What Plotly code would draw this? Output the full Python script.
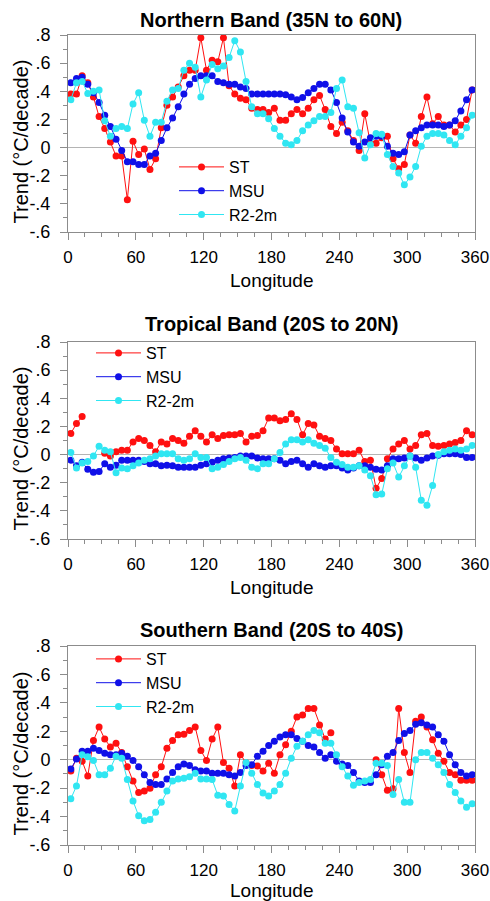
import plotly.graph_objects as go

lon = [2.5 + 5 * i for i in range(72)]

north_st = [0.38, 0.38, 0.51, 0.46, 0.36, 0.22, 0.135, 0.04, -0.06, -0.06,
            -0.37, 0.045, -0.05, -0.01, -0.155, -0.08, 0.14, 0.30, 0.36, 0.43,
            0.51, 0.55, 0.55, 0.78, 0.55, 0.62, 0.61, 0.78, 0.44, 0.38,
            0.35, 0.34, 0.28, 0.27, 0.27, 0.25, 0.28, 0.195, 0.195, 0.24,
            0.27, 0.24, 0.28, 0.34, 0.37, 0.27, 0.15, 0.10, 0.18, 0.12,
            0.05, -0.02, 0.24, 0.03, 0.03, 0.07, 0.08, -0.08, -0.15, -0.12,
            0.09, 0.03, 0.22, 0.36, 0.17, 0.22, 0.16, 0.16, 0.11, 0.16,
            0.20, 0.41]
north_msu = [0.46, 0.49, 0.50, 0.45, 0.39, 0.32, 0.23, 0.15, 0.06, -0.02,
             -0.10, -0.10, -0.12, -0.12, -0.06, -0.04, 0.05, 0.14, 0.21, 0.29,
             0.38, 0.45, 0.49, 0.51, 0.51, 0.51, 0.47, 0.46, 0.45, 0.45,
             0.43, 0.42, 0.38, 0.38, 0.38, 0.38, 0.38, 0.38, 0.375, 0.36,
             0.34, 0.355, 0.39, 0.42, 0.45, 0.45, 0.41, 0.32, 0.21, 0.11,
             0.04, 0.01, 0.04, 0.07, 0.08, 0.08, 0.01, -0.04, -0.05, -0.03,
             0.09, 0.12, 0.14, 0.16, 0.16, 0.16, 0.15, 0.16, 0.19, 0.26,
             0.34, 0.41]
north_r2 = [0.34, 0.46, 0.47, 0.385, 0.40, 0.41, 0.19, 0.08, 0.135, 0.15,
            0.135, 0.31, 0.39, 0.195, 0.08, 0.18, 0.18, 0.33, 0.41, 0.42,
            0.55, 0.60, 0.57, 0.36, 0.48, 0.59, 0.56, 0.58, 0.64, 0.76,
            0.68, 0.47, 0.29, 0.24, 0.24, 0.205, 0.135, 0.08, 0.03, 0.02,
            0.05, 0.12, 0.16, 0.19, 0.22, 0.22, 0.25, 0.42, 0.48, 0.29,
            0.28, 0.105, -0.075, 0.02, 0.10, 0.095, -0.05, -0.135, -0.18, -0.265,
            -0.21, -0.135, 0.01, 0.08, 0.10, 0.10, 0.09, 0.05, 0.02, 0.08,
            0.14, 0.23]

trop_st = [0.15, 0.22, 0.27, None, None, None, 0.01, -0.01, 0.02, 0.03,
           0.03, 0.09, 0.115, 0.10, 0.065, 0.02, 0.09, 0.075, 0.115, 0.10,
           0.08, 0.13, 0.17, 0.13, 0.09, 0.14, 0.115, 0.135, 0.14, 0.14,
           0.15, 0.09, 0.13, 0.135, 0.17, 0.26, 0.26, 0.24, 0.25, 0.29,
           0.25, 0.14, 0.22, 0.21, 0.13, 0.115, 0.10, 0.04, 0.005, 0.005,
           0.005, 0.03, -0.05, -0.04, -0.24, -0.17, -0.03, 0.04, 0.075, 0.10,
           0.04, 0.065, 0.14, 0.15, 0.065, 0.06, 0.065, 0.075, 0.085, 0.10,
           0.17, 0.14]
trop_msu = [-0.04, -0.08, -0.055, -0.105, -0.125, -0.12, -0.065, -0.09, -0.075, -0.04,
            -0.04, -0.04, -0.04, -0.05, -0.065, -0.065, -0.08, -0.075, -0.08, -0.09,
            -0.09, -0.09, -0.09, -0.075, -0.065, -0.055, -0.04, -0.03, -0.025, -0.02,
            -0.01, -0.01, -0.01, -0.025, -0.03, -0.03, -0.03, -0.04, -0.065, -0.05,
            -0.04, -0.065, -0.09, -0.065, -0.08, -0.09, -0.08, -0.08, -0.095, -0.11,
            -0.095, -0.08, -0.08, -0.09, -0.105, -0.11, -0.08, -0.03, -0.03, -0.025,
            -0.01, -0.025, -0.04, -0.025, -0.01, -0.005, 0.005, 0.005, 0.005, 0.0,
            -0.02, -0.02]
trop_r2 = [0.015, -0.095, -0.06, -0.05, -0.01, 0.06, 0.03, 0.02, -0.13, -0.095,
           -0.10, -0.08, -0.06, -0.04, -0.03, -0.01, 0.005, 0.005, 0.005, -0.03,
           -0.04, -0.03, 0.005, -0.02, -0.02, -0.10, -0.09, -0.07, -0.05, -0.03,
           -0.02, -0.04, -0.09, -0.10, -0.065, -0.065, -0.03, 0.015, 0.075, 0.105,
           0.105, 0.09, 0.105, 0.08, 0.065, 0.045, -0.02, -0.055, -0.07, -0.09,
           -0.09, -0.08, -0.11, -0.15, -0.285, -0.28, -0.10, -0.06, -0.16, -0.08,
           -0.01, -0.09, -0.325, -0.36, -0.22, 0.0, 0.02, 0.03, 0.04, 0.03,
           0.04, 0.065]

south_st = [-0.08, 0.01, -0.01, -0.115, 0.135, 0.23, 0.145, 0.09, 0.115, 0.05,
            -0.05, -0.15, -0.23, -0.22, -0.20, -0.105, -0.05, 0.08, 0.135, 0.175,
            0.18, 0.205, 0.23, 0.065, -0.005, 0.145, 0.23, -0.02, -0.06, -0.185,
            0.035, -0.02, -0.04, -0.045, -0.08, -0.025, -0.095, 0.035, 0.105, 0.20,
            0.30, 0.315, 0.36, 0.36, 0.245, 0.145, 0.19, None, None, None,
            None, None, None, None, 0.0, -0.105, -0.215, -0.205, 0.36, 0.05,
            -0.09, 0.27, 0.30, 0.23, 0.14, 0.045, -0.01, -0.09, -0.105, -0.145,
            -0.145, -0.145]
south_msu = [-0.065, 0.005, 0.06, 0.06, 0.08, 0.065, 0.045, 0.035, 0.035, 0.045,
             0.025, -0.005, -0.05, -0.105, -0.16, -0.175, -0.175, -0.135, -0.09, -0.05,
             -0.03, -0.04, -0.07, -0.08, -0.08, -0.095, -0.095, -0.095, -0.105, -0.115,
             -0.09, -0.04, -0.035, 0.025, 0.06, 0.10, 0.13, 0.16, 0.175, 0.175,
             0.15, 0.13, 0.10, 0.09, 0.05, 0.01, 0.035, -0.01, -0.03, -0.04,
             -0.09, -0.15, -0.16, -0.16, -0.105, -0.035, 0.025, 0.05, 0.135, 0.185,
             0.205, 0.25, 0.26, 0.245, 0.23, 0.175, 0.13, 0.035, -0.035, -0.09,
             -0.115, -0.105]
south_r2 = [-0.275, -0.185, 0.035, 0.02, -0.005, -0.105, -0.105, -0.06, 0.025, 0.01,
            -0.14, -0.29, -0.395, -0.43, -0.42, -0.37, -0.30, -0.22, -0.15, -0.135,
            -0.13, -0.12, -0.095, -0.135, -0.135, -0.14, -0.25, -0.255, -0.315, -0.36,
            -0.185, -0.02, -0.095, -0.175, -0.235, -0.255, -0.22, -0.175, -0.095, 0.01,
            0.095, 0.13, 0.175, 0.205, 0.19, 0.115, 0.115, 0.035, -0.05, -0.115,
            -0.18, -0.16, -0.15, -0.14, -0.025, -0.025, -0.04, -0.245, -0.14, -0.30,
            -0.30, 0.0, 0.05, 0.05, 0.01, -0.035, -0.09, -0.175, -0.23, -0.29,
            -0.335, -0.31]

titles = ["Northern Band (35N to 60N)", "Tropical Band (20S to 20N)", "Southern Band (20S to 40S)"]
series_names = ["ST", "MSU", "R2-2m"]
colors = ["#ff1010", "#1010e8", "#30e6f2"]
ytick_vals = [-0.6, -0.4, -0.2, 0, 0.2, 0.4, 0.6, 0.8]
ytick_text = ["-.6", "-.4", "-.2", "0", ".2", ".4", ".6", ".8"]
xtick_vals = [0, 60, 120, 180, 240, 300, 360]

W, H = 490, 901
ML, MR = 68, 15
PW = W - ML - MR

def px(p):
    return (p - ML) / PW

def py(p):
    return 1 - p / H

# panel pixel extents (top, bottom)
panels = [(35, 232), (342, 539), (646, 845)]
title_y = [19.5, 324, 630]
xlab_y = [280, 587, 890]
legend_pos = [(174, 150), (91, 336), (91, 642)]

data = [(north_st, north_msu, north_r2), (trop_st, trop_msu, trop_r2), (south_st, south_msu, south_r2)]

FONT = "Liberation Sans, Arial, sans-serif"
fig = go.Figure()
gray = "#8c8c8c"
layout = dict(width=W, height=H, autosize=False,
              margin=dict(l=ML, r=MR, t=0, b=0),
              paper_bgcolor="white", plot_bgcolor="white",
              font=dict(family=FONT, color="black"),
              annotations=[])

for k in range(3):
    ax = "" if k == 0 else str(k + 1)
    leg = "legend" if k == 0 else "legend%d" % (k + 1)
    for s in range(3):
        fig.add_trace(go.Scatter(
            x=lon, y=data[k][s], mode="lines+markers", name=series_names[s],
            line=dict(color=colors[s], width=1),
            marker=dict(color=colors[s], size=7),
            xaxis="x" + ax, yaxis="y" + ax, legend=leg, connectgaps=False))
    top, bot = panels[k]
    layout["xaxis" + ax] = dict(
        domain=[0, 1], range=[0, 360], anchor="y" + ax,
        tickvals=xtick_vals, ticks="outside", ticklen=7, tickwidth=1, tickcolor=gray,
        minor=dict(dtick=15, ticks="outside", ticklen=4, tickcolor=gray, showgrid=False),
        showline=True, linecolor=gray, linewidth=1, mirror=True,
        showgrid=False, zeroline=False, tickfont=dict(size=17, family=FONT),
        ticklabelstandoff=3, automargin=False, ticklabeloverflow="allow")
    layout["yaxis" + ax] = dict(
        domain=[py(bot), py(top)], range=[-0.6, 0.8], anchor="x" + ax,
        tickvals=ytick_vals, ticktext=ytick_text, ticks="outside", ticklen=7, tickwidth=1,
        tickcolor=gray,
        minor=dict(dtick=0.1, ticks="outside", ticklen=4, tickcolor=gray, showgrid=False),
        showline=True, linecolor=gray, linewidth=1, mirror=True,
        showgrid=False, zeroline=True, zerolinecolor="#b4b4b4", zerolinewidth=1,
        tickfont=dict(size=18, family=FONT), ticklabelstandoff=6, automargin=False,
        ticklabeloverflow="allow")
    lx, ly = legend_pos[k]
    layout[leg] = dict(x=px(lx), y=py(ly), xanchor="left", yanchor="top",
                       bgcolor="rgba(0,0,0,0)", font=dict(size=16, family=FONT),
                       tracegroupgap=0, itemwidth=45)
    layout["annotations"].append(dict(
        text=titles[k], x=px(271), y=py(title_y[k]), xref="paper", yref="paper",
        showarrow=False, xanchor="center", yanchor="middle",
        font=dict(size=20, family=FONT, weight="bold")))
    layout["annotations"].append(dict(
        text="Longitude", x=px(271), y=py(xlab_y[k]), xref="paper", yref="paper",
        showarrow=False, xanchor="center", yanchor="middle",
        font=dict(size=19, family=FONT)))
    layout["annotations"].append(dict(
        text="Trend (\u00b0C/decade)", x=px(20), y=py((top + bot) / 2 + 8),
        xref="paper", yref="paper", showarrow=False, textangle=-90,
        xanchor="center", yanchor="middle", font=dict(size=20, family=FONT)))

fig.update_layout(**layout)
fig.write_html("out.html", config={"displayModeBar": False},
               post_script="document.body.style.margin='0';document.body.style.padding='0';")
